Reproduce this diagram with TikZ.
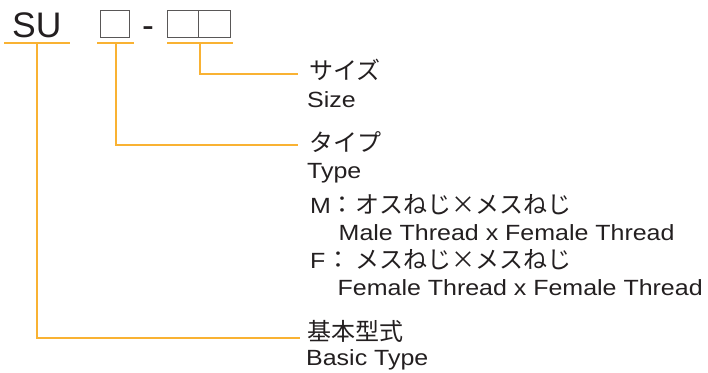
\documentclass[tikz,border=0pt]{standalone}
\usepackage{fontspec}
\setmainfont{Liberation Sans}
\newfontfamily\enfont[FakeStretch=1.135]{Liberation Sans}
\newfontfamily\jpfont{Noto Sans CJK JP}
\definecolor{lineorange}{HTML}{F9B233}
\definecolor{txt}{HTML}{231F20}
\definecolor{boxgray}{HTML}{595757}
\begin{document}
\begin{tikzpicture}[x=1pt,y=-1pt,
  lbl/.style={inner sep=0, anchor=base west, text=txt},
  en/.style={lbl, font=\enfont\fontsize{22}{22}\selectfont},
  jp/.style={lbl, font=\jpfont\fontsize{24}{24}\selectfont},
  big/.style={lbl, font=\fontsize{35.5}{35.5}\selectfont},
  lead/.style={draw=lineorange, line width=1.2pt},
  codebox/.style={draw=boxgray, line width=1pt, inner sep=0, minimum height=27pt}]
\useasboundingbox (0,0) rectangle (708,372);
% code
\node[big] (su) at (12,37) {SU};
\node[codebox, minimum width=29pt] (b1) at (114.5,23.5) {};
\node[big, anchor=base] (dash) at (148,37) {-};
\node[codebox, minimum width=31.5pt] (b2) at (182.75,23.5) {};
\node[codebox, minimum width=31.5pt] (b3) at (214.25,23.5) {};
% underlines
\coordinate (u0l) at (4,43);   \coordinate (u0r) at (70,43);
\coordinate (u1l) at (97,43);  \coordinate (u1r) at (134,43);
\coordinate (u2l) at (167,43); \coordinate (u2r) at (233,43);
\draw[lead] (u0l) -- (u0r);
\draw[lead] (u1l) -- (u1r);
\draw[lead] (u2l) -- (u2r);
% branch points and ends
\coordinate (t0) at (37,43);
\coordinate (t1) at (116,43);
\coordinate (t2) at (200,43);
\coordinate (e2) at (298,74);
\coordinate (e1) at (298,145);
\coordinate (e0) at (300,338);
\draw[lead] (t2) |- (e2);
\draw[lead] (t1) |- (e1);
\draw[lead] (t0) |- (e0);
% labels
\node[jp] (sizejp) at (309,79) {サイズ};
\node[en] (sizeen) at (307,107) {Size};
\node[jp] (typejp) at (309,151) {タイプ};
\node[en] (typeen) at (307,178) {Type};
\node[en] (mkey) at (310,213) {M};
\node[jp, anchor=base] (mcolon) at (342,213) {：};
\node[jp] (mjp) at (355,213) {オスねじ×メスねじ};
\node[en] (men) at (338.5,240) {Male Thread x Female Thread};
\node[en] (fkey) at (310,268) {F};
\node[jp, anchor=base] (fcolon) at (338,268) {：};
\node[jp] (fjp) at (355,268) {メスねじ×メスねじ};
\node[en] (fen) at (337.5,295) {Female Thread x Female Thread};
\node[jp] (basicjp) at (307,340) {基本型式};
\node[en] (basicen) at (306,365) {Basic Type};
\end{tikzpicture}
\end{document}
